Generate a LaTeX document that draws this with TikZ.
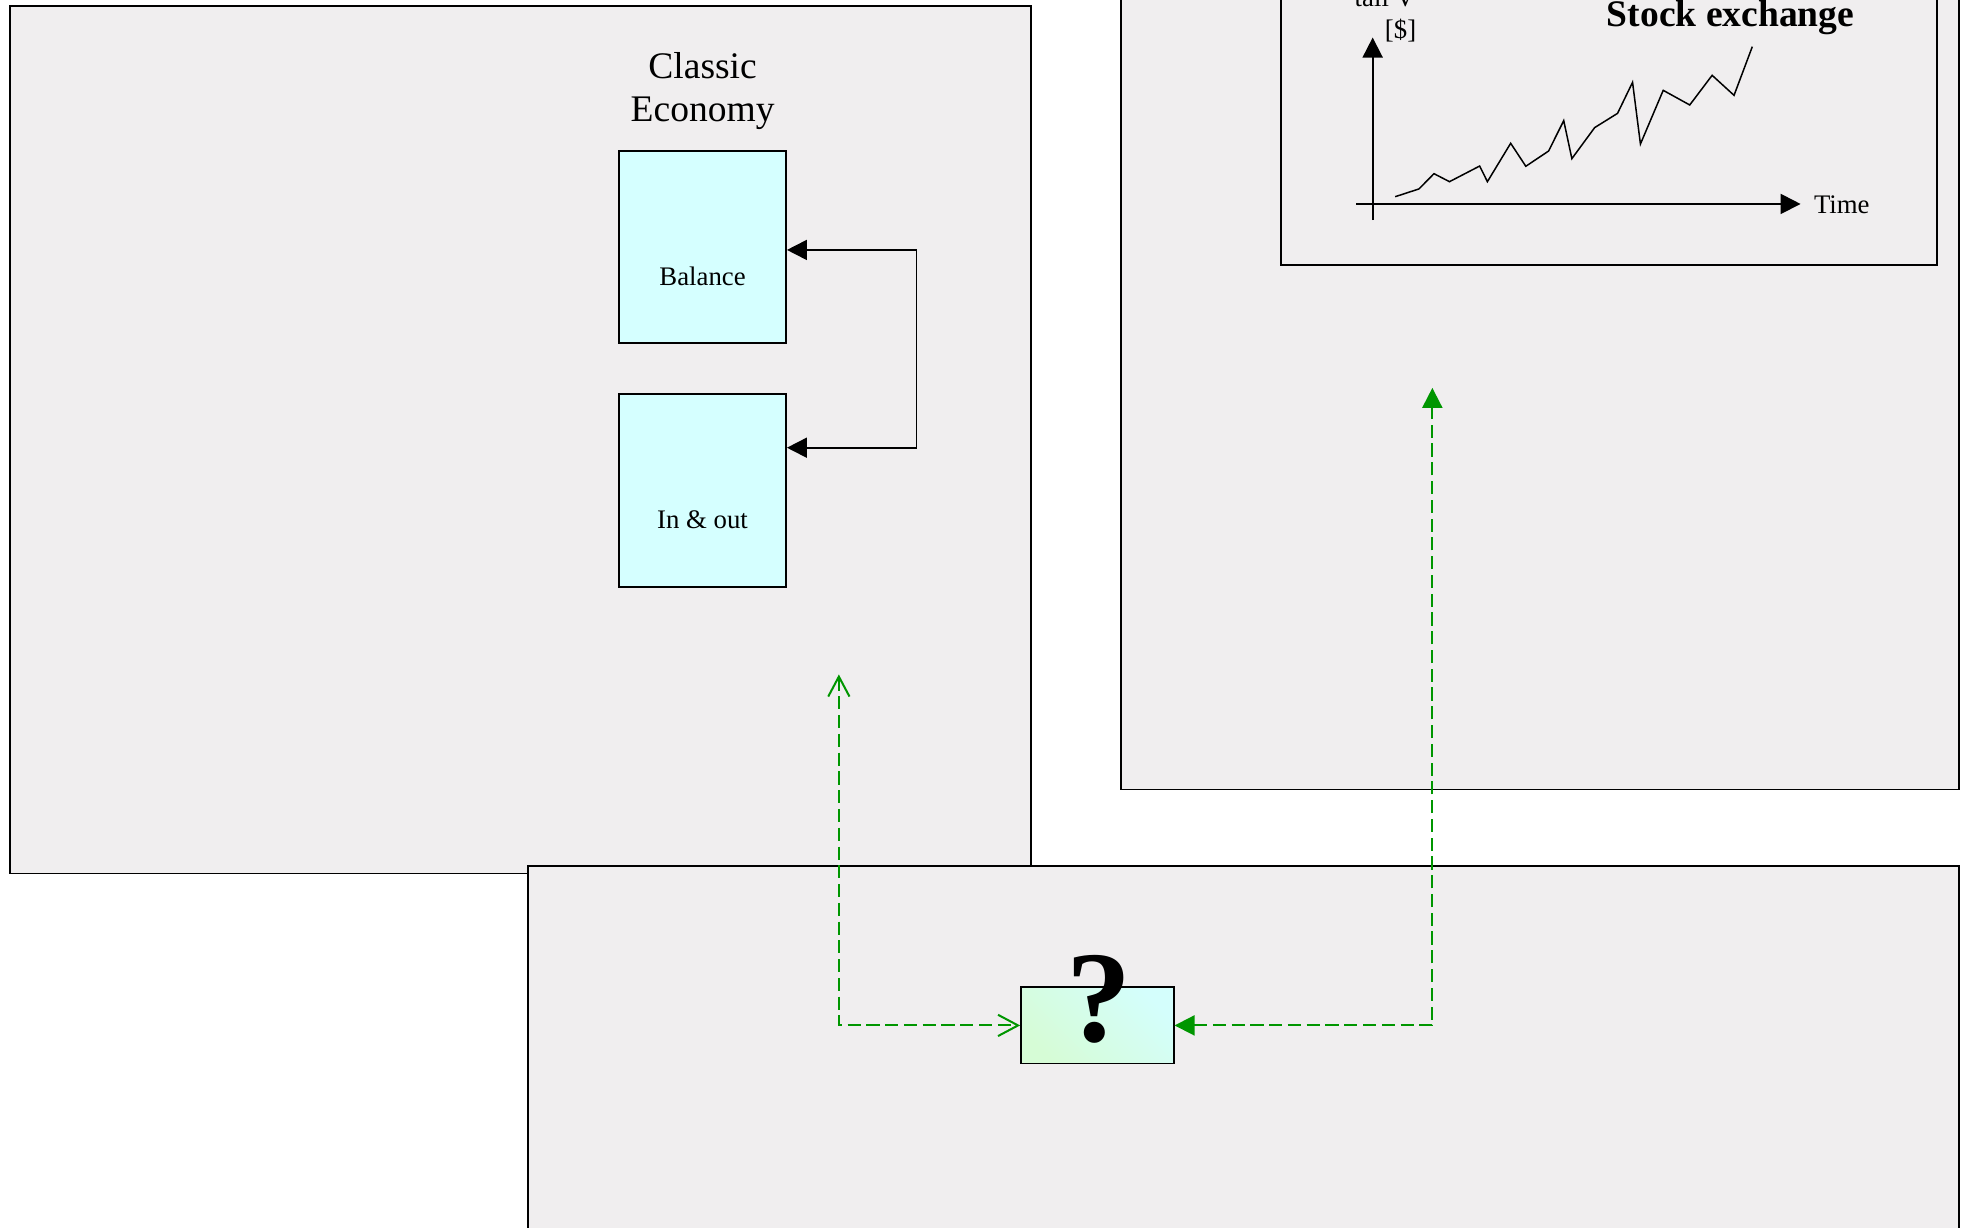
\documentclass[tikz,border=0pt]{standalone}
\usepackage{fontspec}
\setmainfont{Liberation Serif}
\usetikzlibrary{arrows.meta,calc}
\tikzset{>={Triangle[length=16pt,width=16pt]}}
\tikzset{barb/.tip={Straight Barb[length=16pt,width=17pt]}}
\definecolor{panelgray}{RGB}{240,238,239}
\definecolor{accountcyan}{RGB}{213,255,255}
\definecolor{qgreen}{RGB}{214,252,214}
\definecolor{qcyan}{RGB}{212,254,252}
\definecolor{linkgreen}{RGB}{0,150,0}
\tikzstyle{panel}=[draw=black,fill=panelgray,line width=1.4pt]
\tikzstyle{account}=[draw=black,fill=accountcyan,line width=1.4pt,inner sep=0pt,
                     minimum width=133.5pt,minimum height=153.7pt]
\tikzstyle{qbox}=[draw=black,line width=1.4pt,inner sep=0pt,minimum width=122pt,minimum height=61pt,
                  top color=qcyan,bottom color=qgreen,shading angle=-45]
\tikzstyle{link}=[linkgreen,line width=1.6pt,dash pattern=on 10.5pt off 4.5pt]
\tikzstyle{small}=[font=\fontsize{21.4}{24.6}\selectfont,inner sep=0pt]

\begin{document}
\begin{tikzpicture}[x=1pt,y=-1pt]

  \useasboundingbox (0,0) rectangle (1568,981);

  \filldraw[panel] (8,4.5) rectangle (824,698); % classic economy
  \filldraw[panel] (896,-40) rectangle (1565.5,631); % stock market

  \draw[line width=1.4pt] (1023.5,-40) rectangle (1548,212); % chart frame
  \draw[line width=1.5pt,->] (1097,176) -- (1097,30);
  \draw[line width=1.5pt,->] (1084,163) -- (1439,163);
  \draw[line width=1.2pt] (1115,157.2) -- (1134,151) -- (1146,138.8) -- (1158.4,145.2) --
    (1182.5,132.7) -- (1188.7,145.2) -- (1207.3,114.5) -- (1219.4,132.9) -- (1237.6,120.7) --
    (1249.7,96.4) -- (1256.2,126.8) -- (1274.4,102) -- (1292.7,90.6) -- (1304.7,65.8) --
    (1311,115.1) -- (1329.2,72.2) -- (1350.4,83.9) -- (1368.3,60.2) -- (1385.8,76.2) -- (1400.4,37.3);
  \node[small,anchor=base east] (valuetop) at (1131,5.5) {tall V};
  \node[small,anchor=base east] (valueunit) at (1132,30.5) {[\$]};
  \node[small,anchor=base west] (time) at (1449.5,171) {Time};
  \node[font=\fontsize{30}{34}\selectfont\bfseries,anchor=base,inner sep=0pt] (stock)
    at (1383,21.3) {Stock exchange};

  \filldraw[panel] (422,692) rectangle (1565.5,1020); % lower panel

  \node[font=\fontsize{30}{34.3}\selectfont,align=center,anchor=north,inner sep=0pt] (classic)
    at (561.5,41.8) {Classic\\Economy};
  \node[account] (balance) at (561.45,197.55) {};
  \node[account] (inout) at (561.45,392) {};
  \node[small,anchor=base] (balancetext) at ([yshift=-30.3pt]balance.center) {Balance};
  \node[small,anchor=base] (inouttext) at ([yshift=-30.2pt]inout.center) {In \& out};
  \draw[line width=1.4pt,<->] ([yshift=-2.2pt]balance.east) -- ++(103.5,0)
    |- ([yshift=34.2pt]inout.east);

  \node[qbox] (question) at (877,819.5) {};
  \node[font=\fontsize{104}{104}\selectfont\bfseries,anchor=base,inner sep=0pt] (qmark)
    at (878,832.5) {?};

  \coordinate (econ in) at (670.4,539);
  \coordinate (stock in) at (1144.7,310);
  \draw[link,barb-barb] (econ in) |- (question.west);
  \draw[link,<->] (question.east) -| (stock in);

\end{tikzpicture}
\end{document}
